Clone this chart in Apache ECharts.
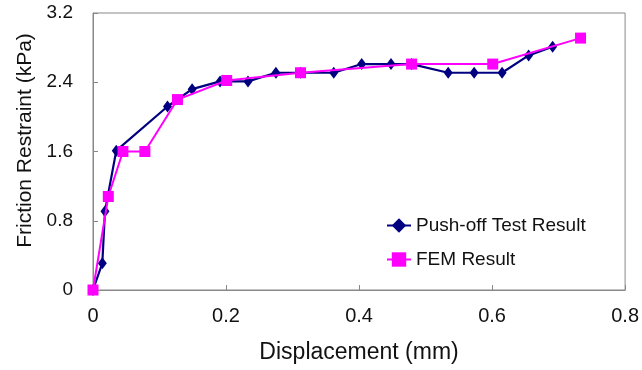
<!DOCTYPE html>
<html>
<head>
<meta charset="utf-8">
<script src="https://cdn.jsdelivr.net/npm/echarts@6/dist/echarts.min.js"></script>
<style>html,body{margin:0;padding:0;background:#fff}#c{width:642px;height:370px}</style>
</head>
<body>
<div id="c"></div>
<script>
const pushOffX = [0, 0.014, 0.018, 0.035, 0.112, 0.149, 0.191, 0.233, 0.275, 0.312, 0.362, 0.404, 0.448, 0.479, 0.534, 0.573, 0.615, 0.655, 0.691];
const pushOffY = [0, 0.31, 0.91, 1.61, 2.12, 2.32, 2.41, 2.41, 2.51, 2.51, 2.51, 2.61, 2.61, 2.61, 2.51, 2.51, 2.51, 2.71, 2.81];
const femX = [0, 0.023, 0.045, 0.078, 0.127, 0.201, 0.312, 0.479, 0.601, 0.733];
const femY = [0, 1.08, 1.6, 1.6, 2.2, 2.42, 2.51, 2.61, 2.61, 2.91];
const xTicks = [0, 0.2, 0.4, 0.6, 0.8];
const yTicks = [0, 0.8, 1.6, 2.4, 3.2];
const seriesNames = ['Push-off Test Result', 'FEM Result'];

const zip = (xs, ys) => xs.map((x, i) => [x, ys[i]]);
const font = 'Liberation Sans, Arial, sans-serif';
const chart = echarts.init(document.getElementById('c'));
chart.setOption({
  animation: false,
  backgroundColor: '#fff',
  grid: { left: 93, right: 10, top: 13, bottom: 80, show: true, borderColor: '#888', borderWidth: 1 },
  xAxis: {
    type: 'value', min: xTicks[0], max: xTicks[xTicks.length - 1], interval: 0.2,
    name: 'Displacement (mm)', nameLocation: 'middle', nameGap: 51,
    nameTextStyle: { fontFamily: font, fontSize: 23, color: '#111' },
    axisLine: { lineStyle: { color: '#888' } },
    axisTick: { inside: true, length: 5, lineStyle: { color: '#888' } },
    axisLabel: { fontFamily: font, fontSize: 20, color: '#111', margin: 16 },
    splitLine: { show: false }
  },
  yAxis: {
    type: 'value', min: yTicks[0], max: yTicks[yTicks.length - 1], interval: 0.8,
    name: 'Friction Restraint (kPa)', nameLocation: 'middle', nameGap: 57,
    nameTextStyle: { fontFamily: font, fontSize: 21, color: '#111', padding: [0, 0, 0, 22] },
    axisLine: { show: true, lineStyle: { color: '#888' } },
    axisTick: { show: true, inside: true, length: 5, lineStyle: { color: '#888' } },
    axisLabel: { fontFamily: font, fontSize: 19, color: '#111', margin: 20 },
    splitLine: { show: false }
  },
  legend: {
    orient: 'vertical', left: 381, top: 211, itemGap: 15, itemWidth: 24, itemHeight: 18,
    textStyle: { fontFamily: font, fontSize: 19, color: '#111' },
    data: seriesNames
  },
  series: [
    {
      name: seriesNames[0], type: 'line', data: zip(pushOffX, pushOffY),
      symbol: 'diamond', symbolSize: [9, 12],
      lineStyle: { color: '#000080', width: 2.2 }, itemStyle: { color: '#000080' }, z: 2
    },
    {
      name: seriesNames[1], type: 'line', data: zip(femX, femY),
      symbol: 'rect', symbolSize: 11,
      lineStyle: { color: '#ff00ff', width: 2 }, itemStyle: { color: '#ff00ff' }, z: 3
    }
  ]
});
</script>
</body>
</html>
